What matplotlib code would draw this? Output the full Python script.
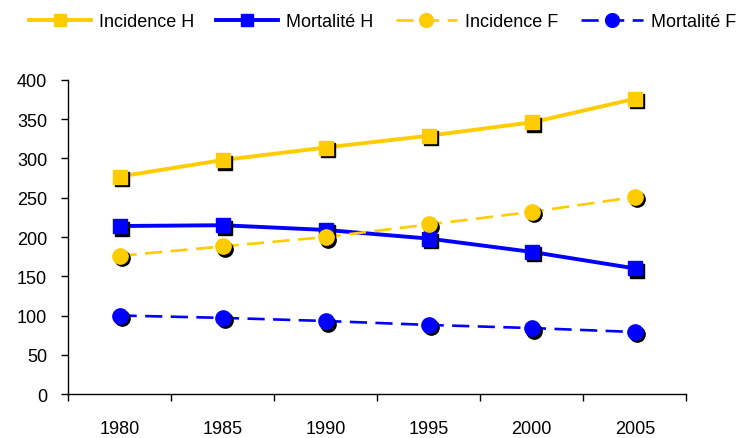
import numpy as np
import matplotlib.pyplot as plt
from matplotlib.transforms import ScaledTranslation

plt.rcParams["font.family"] = ["Liberation Sans", "DejaVu Sans"]

years = ["1980", "1985", "1990", "1995", "2000", "2005"]
incidence_h = [277, 298, 314, 329, 346, 376]
mortalite_h = [214, 215, 209, 198, 181, 160]
incidence_f = [176, 188, 200, 216, 232, 251]
mortalite_f = [100, 97, 93, 88, 84, 79]

yellow = "#FFCC00"
blue = "#0000FF"

fig = plt.figure(figsize=(7.5, 4.39), dpi=100)
ax = fig.add_axes([0.0907, 0.1002, 0.8245, 0.7153])
x = np.arange(len(years))

series = [
    ("Incidence H", incidence_h, yellow, "-", "s", 2.8, 9.5),
    ("Mortalité H", mortalite_h, blue, "-", "s", 2.8, 9.5),
    ("Incidence F", incidence_f, yellow, (0, (6.5, 3.2)), "o", 1.9, 11),
    ("Mortalité F", mortalite_f, blue, (0, (6.5, 3.2)), "o", 1.9, 11),
]

# black drop shadow under each marker, shifted right and down
shadow = ax.transData + ScaledTranslation(2.5 / 100, -2.5 / 100, fig.dpi_scale_trans)
handles = []
for label, vals, col, ls, mk, lw, ms in series:
    ax.plot(x, vals, color=col, ls=ls, lw=lw, zorder=2)
    ax.plot(x, vals, ls="none", marker=mk, ms=ms, color="black",
            mec="black", transform=shadow, zorder=3)
    ax.plot(x, vals, ls="none", marker=mk, ms=ms, color=col, mec=col, zorder=4)
    h, = plt.plot([], [], color=col, ls=ls, lw=lw, marker=mk, ms=ms * 0.9,
                  mec=col, label=label)
    handles.append(h)

ax.set_xlim(-0.5, len(years) - 0.5)
ax.set_ylim(0, 400)
ax.set_yticks(np.arange(0, 401, 50))
ax.set_xticks(np.arange(-0.5, len(years), 1.0))
ax.set_xticklabels([])
ax.set_xticks(x, minor=True)
ax.set_xticklabels(years, minor=True)
ax.tick_params(axis="x", which="major", length=5, width=1, direction="out")
ax.tick_params(axis="x", which="minor", length=0, pad=19, labelsize=13)
ax.tick_params(axis="y", length=5, width=1, direction="out", labelsize=13, pad=10)
for s in ["top", "right"]:
    ax.spines[s].set_visible(False)
for s in ["left", "bottom"]:
    ax.spines[s].set_linewidth(1)

fig.legend(handles=handles, loc="upper center", bbox_to_anchor=(0.51, 1.005),
           ncol=4, frameon=False, fontsize=13, handlelength=3.4,
           columnspacing=1.25, handletextpad=0.45)

fig.savefig("out.png", dpi=100)
